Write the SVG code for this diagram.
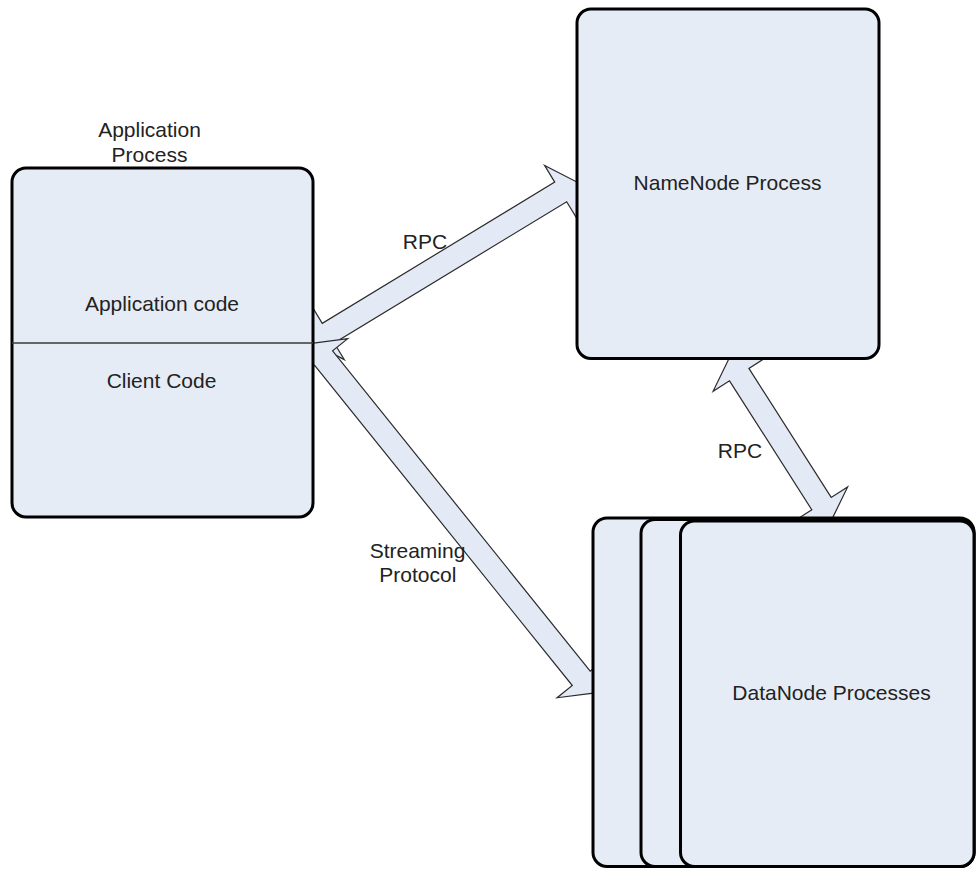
<svg xmlns="http://www.w3.org/2000/svg" width="976" height="869" viewBox="0 0 976 869">
  <style>
    .box { fill: #e6ecf6; stroke: #000; stroke-width: 3; }
    .divider { stroke: #3a3a3a; stroke-width: 1.5; fill: none; }
    .arrow { fill: #e4eaf5; stroke: #2b2b2b; stroke-width: 1.2; stroke-linejoin: miter; }
    .label { font-family: "Liberation Sans", Arial, sans-serif; font-size: 21px; fill: #222; text-anchor: middle; }
  </style>
  <defs>
    <!-- double-headed block arrow shapes, tip-to-tip along the x axis -->
    <polygon id="dbl-310" points="0,0 19,-31 19,-11.5 291,-11.5 291,-31 310,0 291,31 291,11.5 19,11.5 19,31"/>
    <polygon id="dbl-449" points="0,0 19,-31 19,-11.5 430,-11.5 430,-31 449,0 430,31 430,11.5 19,11.5 19,31"/>
    <polygon id="dbl-191" points="0,0 19,-31 19,-11.5 172,-11.5 172,-31 191,0 172,31 172,11.5 19,11.5 19,31"/>
  </defs>

  <rect width="976" height="869" fill="#fff"/>

  <!-- connectors -->
  <g id="connectors">
    <use href="#dbl-310" class="arrow" transform="translate(312,343) rotate(-31.28)"/>
    <use href="#dbl-449" class="arrow" transform="translate(311.7,343.3) rotate(51.18)"/>
    <use href="#dbl-191" class="arrow" transform="translate(729,358.6) rotate(57.47)"/>
  </g>

  <!-- application process -->
  <g id="application-process">
    <text class="label" x="149.5" y="137">Application</text>
    <text class="label" x="149.5" y="162">Process</text>
    <rect class="box" x="12" y="168" width="301" height="349" rx="14" ry="14"/>
    <line class="divider" x1="12" y1="343" x2="313" y2="343"/>
    <text class="label" x="162" y="311">Application code</text>
    <text class="label" x="161.5" y="388">Client Code</text>
  </g>

  <!-- namenode -->
  <g id="namenode">
    <rect class="box" x="577" y="9" width="302" height="349.5" rx="14" ry="14"/>
    <text class="label" x="727.5" y="190">NameNode Process</text>
  </g>

  <!-- stacked datanodes -->
  <g id="datanodes">
    <rect class="box" x="593" y="518" width="381" height="348.5" rx="14" ry="14"/>
    <rect class="box" x="641" y="519.5" width="333" height="347" rx="14" ry="14"/>
    <rect class="box" x="680.5" y="521" width="293.5" height="345.5" rx="14" ry="14"/>
    <text class="label" x="831.5" y="700">DataNode Processes</text>
  </g>

  <!-- connector labels -->
  <g id="connector-labels">
    <text class="label" x="425" y="249">RPC</text>
    <text class="label" x="740" y="458">RPC</text>
    <text class="label" x="417.5" y="557.5">Streaming</text>
    <text class="label" x="417.8" y="582">Protocol</text>
  </g>
</svg>
